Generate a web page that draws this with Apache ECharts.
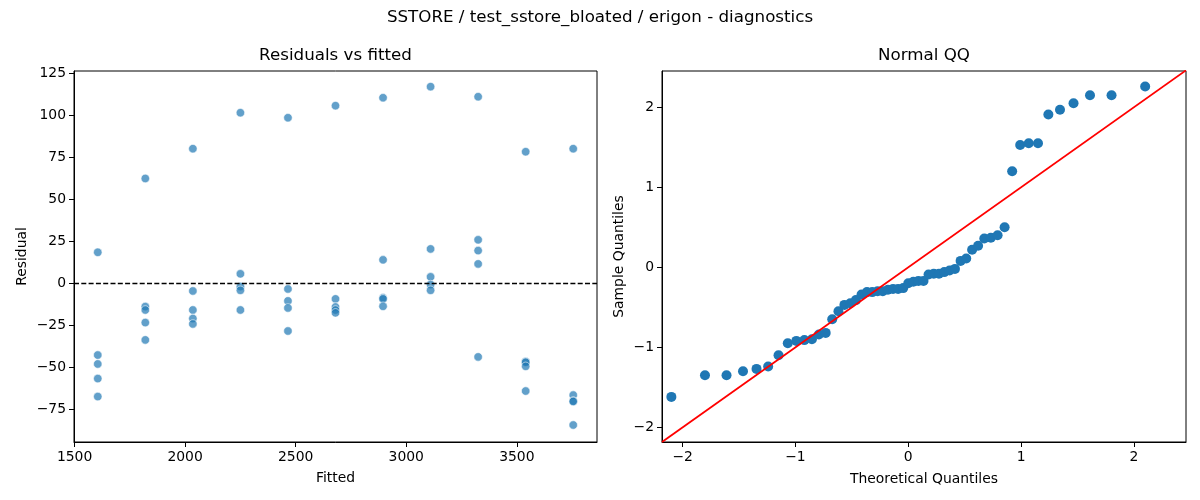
<!DOCTYPE html>
<html>
<head>
<meta charset="utf-8">
<script src="https://cdn.jsdelivr.net/npm/echarts@6/dist/echarts.min.js"></script>
<style>
  html, body { margin: 0; padding: 0; background: #fff; }
  #chart { width: 1200px; height: 500px; }
</style>
</head>
<body>
<div id="chart"></div>
<script>
// residuals vs fitted: 11 fitted levels, 5 residuals each
var fittedLevels = [1605, 1820, 2035, 2250, 2465, 2680, 2895, 3110, 3325, 3540, 3755]
var residuals = [
    [18.6, -42.5, -47.8, -56.5, -67.2],
    [62.5, -13.7, -15.7, -23.2, -33.5],
    [80.2, -4.4, -15.7, -20.8, -24.0],
    [101.6, 5.8, -1.8, -4.0, -15.7],
    [98.6, -3.2, -10.3, -14.5, -28.2],
    [105.8, -9.1, -13.9, -15.7, -17.4],
    [110.5, 14.1, -8.5, -9.1, -13.5],
    [117.1, 20.6, 4.0, -0.6, -4.0],
    [111.1, 26.0, 19.6, 11.7, -43.6],
    [78.4, -46.4, -46.8, -49.2, -63.9],
    [80.2, -66.3, -69.8, -70.1, -84.1]
]
var residXTicks = [1500, 2000, 2500, 3000, 3500]
var residYTicks = [-75, -50, -25, 0, 25, 50, 75, 100, 125]

// normal QQ
var theoQuantiles = [
    -2.100, -1.802, -1.611, -1.465, -1.345, -1.242, -1.150, -1.068, -0.992, -0.921,
    -0.854, -0.792, -0.732, -0.674, -0.619, -0.566, -0.514, -0.464, -0.414, -0.366,
    -0.319, -0.272, -0.226, -0.180, -0.135, -0.090, -0.045, 0.000, 0.045, 0.090,
    0.135, 0.180, 0.226, 0.272, 0.319, 0.366, 0.414, 0.464, 0.514, 0.566,
    0.619, 0.674, 0.732, 0.792, 0.854, 0.921, 0.992, 1.068, 1.150, 1.242,
    1.345, 1.465, 1.611, 1.802, 2.100
]
var sampleQuantiles = [
    -1.62, -1.35, -1.35, -1.30, -1.27, -1.24, -1.10, -0.95, -0.92, -0.91,
    -0.90, -0.84, -0.82, -0.65, -0.55, -0.47, -0.45, -0.41, -0.34, -0.31,
    -0.31, -0.30, -0.30, -0.28, -0.27, -0.27, -0.26, -0.20, -0.18, -0.17,
    -0.17, -0.09, -0.08, -0.08, -0.06, -0.04, -0.02, 0.08, 0.11, 0.22,
    0.27, 0.36, 0.37, 0.40, 0.50, 1.20, 1.53, 1.55, 1.55, 1.91,
    1.97, 2.05, 2.15, 2.15, 2.26
]
var qqTicks = [-2, -1, 0, 1, 2]
var qqLineEnds = [-2.183, 2.462]

var FONT = 'DejaVu Sans'

function minusSign(v) {
    return String(v).replace('-', '\u2212')
}

function makeAxis(grid, min, max, ticks, name, nameGap) {
    return {
        type: 'value',
        gridIndex: grid,
        min: min,
        max: max,
        name: name,
        nameLocation: 'middle',
        nameGap: nameGap,
        nameTextStyle: { fontFamily: FONT, fontSize: 13.9, color: '#000' },
        splitLine: { show: false },
        axisLine: { show: true, onZero: false, lineStyle: { color: '#000', width: 1 } },
        axisTick: {
            show: true,
            inside: false,
            length: 5,
            customValues: ticks,
            lineStyle: { color: '#000', width: 1 }
        },
        axisLabel: {
            customValues: ticks,
            margin: 8,
            fontFamily: FONT,
            fontSize: 13.9,
            color: '#000',
            formatter: minusSign
        }
    }
}

var residPoints = []
for (var i = 0; i < fittedLevels.length; i++) {
    for (var j = 0; j < residuals[i].length; j++) {
        residPoints.push([fittedLevels[i], residuals[i][j]])
    }
}
var qqPoints = []
for (var k = 0; k < theoQuantiles.length; k++) {
    qqPoints.push([theoQuantiles[k], sampleQuantiles[k]])
}

var chart = echarts.init(document.getElementById('chart'))
var option = {
    animation: false,
    backgroundColor: '#fff',
    graphic: [
        { type: 'text', x: 600, y: 18, style: { text: 'SSTORE / test_sstore_bloated / erigon - diagnostics', font: '16.7px "DejaVu Sans"', fill: '#000', textAlign: 'center', textVerticalAlign: 'middle' } },
        { type: 'text', x: 335.5, y: 56, style: { text: 'Residuals vs fitted', font: '16.7px "DejaVu Sans"', fill: '#000', textAlign: 'center', textVerticalAlign: 'middle' } },
        { type: 'text', x: 924, y: 56, style: { text: 'Normal QQ', font: '16.7px "DejaVu Sans"', fill: '#000', textAlign: 'center', textVerticalAlign: 'middle' } }
    ],
    grid: [
        { left: 74, right: 603, top: 71, bottom: 58, show: true, borderColor: '#000', borderWidth: 1 },
        { left: 662, right: 14, top: 71, bottom: 58, show: true, borderColor: '#000', borderWidth: 1 }
    ],
    xAxis: [
        makeAxis(0, 1497.5, 3862.5, residXTicks, 'Fitted', 29),
        makeAxis(1, qqLineEnds[0], qqLineEnds[1], qqTicks, 'Theoretical Quantiles', 30)
    ],
    yAxis: [
        makeAxis(0, -94.2, 126.4, residYTicks, 'Residual', 45),
        makeAxis(1, -2.184, 2.454, qqTicks, 'Sample Quantiles', 36)
    ],
    series: [
        {
            type: 'scatter',
            xAxisIndex: 0,
            yAxisIndex: 0,
            symbolSize: 8.5,
            itemStyle: { color: '#1f77b4', borderColor: '#fff', borderWidth: 0.8, opacity: 0.7 },
            data: residPoints,
            markLine: {
                silent: true,
                symbol: ['none', 'none'],
                label: { show: false },
                lineStyle: { color: '#000', type: [5, 2.3], width: 1.3 },
                data: [{ yAxis: 0 }]
            }
        },
        {
            type: 'line',
            xAxisIndex: 1,
            yAxisIndex: 1,
            showSymbol: false,
            lineStyle: { color: '#ff0000', width: 1.8 },
            data: [[qqLineEnds[0], qqLineEnds[0]], [qqLineEnds[1], qqLineEnds[1]]],
            z: 3
        },
        {
            type: 'scatter',
            xAxisIndex: 1,
            yAxisIndex: 1,
            symbolSize: 10,
            itemStyle: { color: '#1f77b4', opacity: 1 },
            data: qqPoints,
            z: 2
        }
    ]
}
chart.setOption(option)
</script>
</body>
</html>
